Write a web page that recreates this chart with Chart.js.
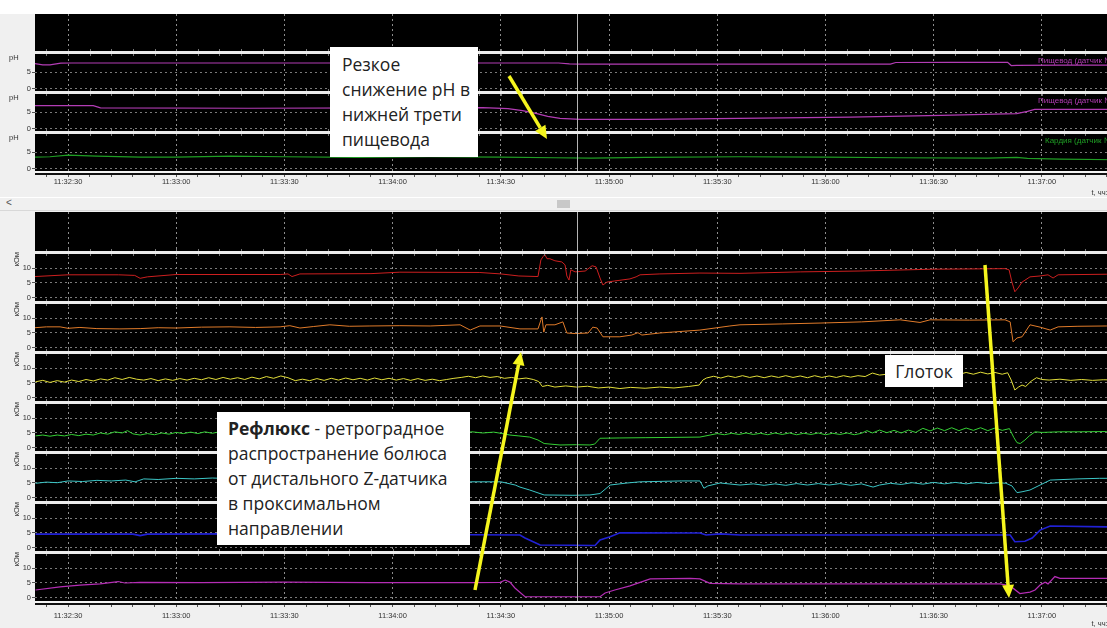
<!DOCTYPE html>
<html><head><meta charset="utf-8">
<script src="https://cdn.jsdelivr.net/npm/chart.js@4.4.0/dist/chart.umd.min.js"></script>
<style>
html,body{margin:0;padding:0;width:1107px;height:628px;overflow:hidden;background:#f0f0f0;position:relative;font-family:'Liberation Sans',Arial,sans-serif;}
#topWhite{position:absolute;left:0;top:0;width:1107px;height:14px;background:#fff}
#scroll{position:absolute;left:0;top:197px;width:1107px;height:12px;background:#f0f0f0;border-top:1px solid #fff;border-bottom:1px solid #d8d8d8}
#scroll .lt{position:absolute;left:6px;top:-1px;font-size:10px;color:#555}
#scroll .thumb{position:absolute;left:557px;top:2px;width:13px;height:8px;background:#c8c8c8}
canvas{position:absolute;left:0}
#c1{top:0}
#c2{top:198px}
#ov{position:absolute;left:0;top:0;z-index:10}
.box{position:absolute;background:#fff;z-index:11;font-family:'Open Sans','Noto Sans',sans-serif;font-size:17.5px;color:#222;line-height:25px;box-sizing:border-box;white-space:nowrap}
</style></head>
<body>
<div id="topWhite"></div>
<div id="scroll"><span class="lt">&lt;</span><div class="thumb"></div></div>
<canvas id="c1" width="1118" height="197"></canvas>
<canvas id="c2" width="1118" height="430"></canvas>
<svg id="ov" width="1107" height="628"></svg>
<div class="box" style="left:330px;top:47px;width:148px;height:110px;padding:5px 0 0 12px">Резкое<br>снижение pH в<br>нижней трети<br>пищевода</div>
<div class="box" style="left:217px;top:412px;width:253px;height:133px;padding:4px 0 0 11px"><b>Рефлюкс</b> - ретроградное<br>распространение болюса<br>от дистального Z-датчика<br>в проксимальном<br>направлении</div>
<div class="box" style="left:885px;top:355px;width:78px;height:32px;line-height:32px;text-align:center">Глоток</div>
<script>
// ---- time axis (seconds after 11:32:00) ----
const X_MIN = 20.85, X_MAX = 321.1;
const majorTicks = [30,60,90,120,150,180,210,240,270,300];
const tickLabels = ['11:32:30','11:33:00','11:33:30','11:34:00','11:34:30','11:35:00','11:35:30','11:36:00','11:36:30','11:37:00'];
const minorStep = 6;
const cursorT = 171.1;

// ---- pH channels ----
const ph1 = [[20.8,7.5],[23,7.1],[25,7.1],[28,7.6],[31,7.65],[60,7.65],[100,7.65],[140,7.65],[166,7.65],[169,7.4],[172,7.35],[200,7.35],[230,7.35],[258,7.35],[259.5,7.8],[275,7.85],[290.5,7.85],[291.5,6.9],[293,6.95],[305,7.0],[322,7.0]];
const ph2 = [[20.8,6.9],[37,6.9],[39,6.2],[80,6.1],[120,6.2],[145,6.3],[152,6.0],[156,5.4],[160,4.5],[163,3.7],[166.4,3.1],[172,2.8],[191,2.8],[216,3.1],[247,3.5],[272,4.0],[293,4.5],[296,5.2],[298,5.75],[322,5.8]];
const ph3 = [[20.8,3.5],[25,3.6],[30,4.1],[38,3.8],[50,3.5],[60,3.5],[75,3.8],[90,3.6],[110,3.4],[130,3.6],[150,3.5],[165,3.3],[175,3.2],[190,3.4],[216,3.6],[240,3.5],[260,3.3],[285,3.2],[293,3.4],[296,3.1],[305,2.9],[322,2.7]];
const phLabels = ['Пищевод (датчик №1)','Пищевод (датчик №2)','Кардия (датчик №3)'];

// ---- impedance channels (kOhm) ----
const z1 = [[20.8,7.2],[30,7.8],[44,7.8],[48.5,7.6],[50,6.6],[52,7.1],[60,7.9],[89,7.9],[91,8.1],[92.1,7.2],[94.3,8.1],[114,8.2],[122,8.7],[144,8.6],[150,8.1],[155,7.4],[160.3,7.2],[161.1,12.9],[161.7,14.0],[162.2,14.7],[162.8,13.3],[163.6,13.3],[165,12.6],[166.9,12.2],[167.8,11.2],[168.3,7.4],[168.9,6.0],[169.4,9.5],[170.6,8.8],[173.4,9.1],[175.3,10.9],[176.4,10.5],[177.5,6.7],[178.3,4.3],[179.4,5.3],[181.6,5.7],[185.8,6.4],[187.5,7.1],[188.6,7.8],[194.1,8.1],[205.2,8.4],[216.3,8.3],[233,8.8],[249.6,9.1],[269,9.7],[289.8,9.9],[290.9,9.5],[291.7,5.3],[292.5,2.0],[293.4,3.3],[294.5,5.3],[296.7,7.1],[299.5,7.4],[301.7,7.8],[303.1,6.7],[304.5,7.8],[318,8.0],[322,8.0]];
const z2 = [[20.8,6.8],[24,7.1],[27.8,7.1],[30,6.6],[33.3,6.9],[38,6.5],[44.4,6.4],[50,6.5],[55,6.8],[60,6.7],[67,7.0],[74.9,7.1],[82,6.9],[88.8,7.1],[91.5,7.5],[94.3,6.7],[98,7.2],[102.6,7.8],[108,7.3],[113.7,7.4],[122,7.5],[130.4,7.4],[138.7,7.8],[141.5,6.0],[144.2,7.4],[149.8,7.4],[155.3,6.4],[160.3,6.4],[161.4,10.5],[161.9,5.3],[162.5,7.8],[165,7.8],[167.2,8.8],[168.3,5.0],[170.6,4.8],[174.2,5.0],[175.5,7.0],[176.7,6.7],[178.3,3.7],[183,3.7],[186.3,4.3],[188,5.1],[189.1,4.3],[194.1,5.0],[205.2,6.0],[213.5,7.4],[216.3,7.8],[228,8.1],[238.5,8.4],[250,8.8],[260.7,9.5],[266.2,8.6],[269,9.5],[280,9.4],[289.8,9.5],[291.2,8.8],[292,2.0],[293.1,3.3],[294.5,3.7],[296.7,7.8],[299.5,7.0],[302.3,6.0],[304.5,7.1],[310,7.3],[318,7.4],[322,7.4]];
const z3 = [[21,5.4],[23,5.9],[25,5.2],[27,5.8],[29,5.3],[31,6.0],[33,5.5],[35,6.2],[37,5.7],[39,6.4],[41,6.0],[43,6.8],[45,6.2],[47,6.9],[49,6.3],[51,6.0],[53,6.5],[55,5.8],[57,6.4],[59,5.9],[61,6.5],[63,6.0],[65,6.6],[67,6.1],[69,6.8],[71,6.2],[73,6.9],[75,6.3],[77,6.8],[79,6.2],[81,7.0],[83,6.4],[85,7.2],[87,6.6],[89,7.4],[91,6.8],[93,5.8],[95,6.3],[97,5.8],[99,6.5],[101,5.9],[103,6.6],[105,6.0],[107,6.7],[109,6.1],[111,6.6],[113,6.0],[115,6.7],[117,6.1],[119,6.6],[121,6.0],[123,6.5],[125,5.9],[127,6.5],[129,5.9],[131,6.3],[133,5.8],[135,6.2],[137,6.6],[139,6.9],[141,7.3],[143,6.8],[145,7.4],[147,6.9],[149,7.2],[151,6.6],[153,6.9],[155,6.4],[157,6.7],[159,6.2],[160.5,5.5],[161.5,3.8],[163,4.2],[165,3.6],[168,4.0],[171,3.6],[174,3.9],[177,3.3],[180,3.6],[183,3.1],[186,3.5],[190,3.2],[194,3.6],[198,3.3],[202,3.8],[205,4.3],[206,6.0],[207,6.7],[209,7.3],[211,6.7],[213,7.4],[215,6.9],[217,7.5],[219,6.9],[221,7.4],[223,6.8],[225,7.4],[227,6.9],[229,7.5],[231,6.9],[233,7.4],[235,6.8],[237,7.5],[239,6.9],[241,7.4],[243,6.9],[245,7.5],[247,7.0],[249,7.5],[251,7.2],[253,8.4],[255,7.7],[257,8.0],[259,7.6],[262,8.1],[265,7.6],[268,8.2],[271,7.7],[274,8.3],[277,7.9],[279,8.6],[281,8.0],[283,8.7],[285,8.1],[287,8.6],[289,8.0],[290.5,8.5],[291.5,6.0],[292.5,2.6],[293.5,3.6],[294.5,4.3],[295.5,3.8],[297,5.6],[298.5,6.8],[300,6.2],[302,6.0],[305,6.3],[308,5.9],[311,6.2],[314,5.9],[317,6.1],[322,6.0]];
const z4 = [[21,4.0],[23,4.3],[25,3.9],[27,4.3],[29,4.0],[31,4.5],[33,4.1],[35,4.6],[37,4.3],[39,5.0],[41,4.6],[43,5.4],[45,5.0],[46.5,5.8],[48,4.7],[50,4.3],[52,4.8],[54,4.4],[56,5.0],[58,4.6],[60,5.2],[62,4.8],[64,5.3],[66,4.8],[68,5.4],[70,4.9],[72,5.4],[74,5.0],[76,5.5],[78,5.0],[80,5.5],[82,5.1],[84,5.6],[86,5.1],[88,5.5],[90,5.0],[92,5.5],[94,5.0],[96,5.6],[98,5.1],[100,5.5],[103,5.0],[106,5.6],[109,5.1],[112,5.5],[115,5.0],[118,5.6],[121,5.1],[124,5.5],[127,5.0],[130,5.5],[133,5.0],[136,5.5],[139,5.0],[142,5.4],[145,5.0],[148,5.3],[150,4.9],[152.5,4.3],[155,4.0],[158,3.6],[160.3,2.6],[162,1.4],[166.4,0.9],[171,1.0],[174.7,0.9],[176,1.2],[177.5,3.2],[183,3.3],[190,3.4],[198,3.5],[205.2,3.6],[208,4.3],[210,4.8],[212,4.4],[214,4.9],[216,4.5],[218,5.0],[220,4.5],[222,4.9],[224,4.4],[226,5.0],[228,4.5],[230,5.0],[232,4.4],[234,4.9],[236,4.5],[238,5.0],[240,4.4],[242,4.9],[244,4.5],[246,5.0],[248,4.4],[250,4.9],[251.5,5.8],[253,5.0],[255,6.0],[257,5.1],[259,5.9],[261,5.0],[263,6.0],[265,5.2],[267,6.6],[269,5.7],[271,6.7],[273,5.8],[275,6.8],[277,5.8],[279,6.7],[281,5.9],[283,6.8],[285,5.8],[287,6.7],[289,5.9],[291,6.5],[292.2,3.5],[293.1,1.7],[294,1.4],[295.3,2.6],[296.5,4.0],[298.1,5.4],[300,5.2],[305,5.4],[310,5.4],[318,5.5],[322,5.5]];
const z5 = [[21,4.9],[24,5.3],[27,5.1],[30,5.7],[34,5.5],[38,5.9],[42,5.7],[46,6.0],[48.6,5.4],[51,6.4],[55,6.2],[60,6.6],[65,6.4],[70,6.7],[75,6.5],[80,6.8],[85,6.6],[90,6.8],[95,6.6],[100,6.9],[105,6.6],[110,6.8],[114,6.6],[120,6.7],[130,6.5],[141.5,5.4],[150,5.4],[154,4.3],[155.3,3.6],[158,2.6],[162,0.9],[170,0.8],[174.7,0.9],[177.5,1.4],[180.3,4.3],[185,5.0],[188.6,5.4],[200,5.7],[205.2,5.7],[206.3,3.2],[207.4,4.0],[210.8,5.0],[216.3,4.3],[220,4.7],[223,4.2],[226,4.7],[229,4.2],[232,4.8],[235,4.3],[238,4.8],[241,4.3],[244,4.8],[247,4.2],[250,4.7],[253.2,3.6],[255,4.3],[258,4.9],[261,4.5],[264,5.1],[267,4.6],[270,5.2],[273,4.7],[276,5.2],[279,4.7],[282,5.2],[285,4.8],[288,5.1],[290,4.9],[291.7,4.0],[293.1,1.7],[294.5,2.0],[296.7,2.6],[299.5,4.3],[302.3,6.0],[310,6.4],[316,6.6],[322,6.6]];
const z6 = [[21,4.6],[40,4.6],[48,4.6],[50,4.1],[52,4.6],[80,4.7],[100,4.5],[120,4.6],[141.5,4.4],[155.3,4.3],[156.7,3.3],[160.9,0.9],[170,0.8],[176.1,0.7],[177.5,2.6],[180.3,3.7],[183,5.1],[205.2,5.0],[206.9,4.3],[210.8,4.7],[216.3,4.3],[250,4.3],[291.2,4.3],[292.5,2.0],[295.3,2.2],[297.3,3.3],[299.5,6.0],[302.3,7.4],[318,7.1],[322,7.1]];
const z7 = [[21,2.6],[27.8,3.7],[33.3,4.3],[38.9,4.7],[43.9,5.5],[45.8,5.0],[50,5.2],[66.6,5.1],[90,5.3],[113.7,5.1],[141.5,5.1],[149.8,5.2],[151.2,6.0],[152.5,5.3],[153.9,3.3],[156.7,0.3],[177.5,0.3],[178.9,1.6],[181.6,2.6],[185.8,4.0],[191.4,6.4],[202.5,6.6],[205.2,6.4],[208,4.9],[216.3,4.7],[288.4,4.7],[291.2,4.0],[293.9,1.4],[296.7,1.9],[298.1,2.6],[299.5,4.3],[300.9,5.3],[301.7,4.7],[303.6,7.2],[305,6.6],[318,6.6],[322,6.6]];

const phTicks = [0,5];
const zTicks = [0,5,10];

Chart.defaults.font.family = "'Liberation Sans','DejaVu Sans',Arial,sans-serif";
Chart.defaults.font.size = 7.5;
Chart.defaults.color = '#3a3a3a';
Chart.defaults.animation = false;

function ds(pairs, color, yID, w){
  return {data: pairs.map(p=>({x:p[0], y:p[1]})), borderColor: color, borderWidth: w||1, pointRadius:0, tension:0, fill:false, yAxisID:yID};
}
function xScale(boxH, tickLen, pad){
  const all = [];
  for (let v = majorTicks[0]-minorStep; v <= X_MAX; v += minorStep) all.push(v);
  return {type:'linear', position:'bottom', min:X_MIN, max:X_MAX,
    afterBuildTicks: s => { s.ticks = all.map(v=>({value:v})); },
    afterFit: s => { s.height = boxH; s.paddingLeft = 0; s.paddingRight = 0; },
    ticks:{autoSkip:false, maxRotation:0, padding:pad, color:'#333',
      callback: v => { const i = majorTicks.indexOf(v); return i>=0 ? tickLabels[i] : ''; }},
    grid:{color: c => (c.tick && majorTicks.includes(c.tick.value)) ? '#8c8c8c' : 'rgba(0,0,0,0)', tickColor:'#555', tickLength:tickLen, lineWidth:1},
    border:{display:false, dash:[2,3]},
    title:{display:true, text:'t, чч:мм', align:'end', color:'#333', font:{size:7.5}, padding:{top:0,bottom:0}}
  };
}
function emptyScale(weight){
  return {type:'linear', position:'left', stack:'s', stackWeight:weight, min:0, max:1,
    afterBuildTicks: s => { s.ticks = [{value:0}]; }, afterFit: s => { s.width = 35; },
    ticks:{display:false}, grid:{display:false}, border:{display:false}};
}
function valScale(weight, min, max, ticks, title){
  return {type:'linear', position:'left', stack:'s', stackWeight:weight, min, max,
    afterBuildTicks: s => { s.ticks = ticks.map(v=>({value:v})); }, afterFit: s => { s.width = 35; },
    ticks:{padding:1, color:'#333'},
    grid:{color:'#7a7a7a', tickColor:'#555', tickLength:3},
    border:{display:false, dash:[2,3]},
    title:{display:!!title, text:title||'', align:'end', color:'#333', font:{size:7.5}, padding:{top:12.5,bottom:0}}
  };
}

const panelPlugin = {
  id:'panel',
  beforeDraw(chart){
    const {ctx, chartArea:a} = chart;
    ctx.save(); ctx.fillStyle='#000'; ctx.fillRect(a.left, a.top, a.right-a.left, a.bottom-a.top); ctx.restore();
  },
  afterDraw(chart, args, opts){
    const {ctx, chartArea:a, scales} = chart;
    const xs = scales.x;
    ctx.save();
    const cx = Math.round(xs.getPixelForValue(cursorT)) + 0.5;
    ctx.strokeStyle = '#b4b4b4'; ctx.lineWidth = 1;
    ctx.beginPath(); ctx.moveTo(cx, a.top); ctx.lineTo(cx, a.bottom); ctx.stroke();
    const ids = opts.strips;
    ids.forEach(id => {
      const y = Math.round(scales[id].top);
      ctx.fillStyle = '#ececec'; ctx.fillRect(a.left, y-1, a.right-a.left, 3);
      ctx.fillStyle = '#777';
      xs.ticks.forEach(t => { const px = Math.round(xs.getPixelForValue(t.value)); ctx.fillRect(px, y+2, 1, 2); ctx.fillRect(px, y-3, 1, 2); });
    });
    ctx.fillStyle = '#f4f4f4'; ctx.fillRect(a.left, a.bottom-1, a.right-a.left, 2);
    ctx.fillStyle = '#111'; ctx.fillRect(a.left, a.bottom+1, a.right-a.left, 2);
    if (opts.unitLeft) {
      ctx.fillStyle = '#333'; ctx.font = "7.5px 'Liberation Sans', Arial, sans-serif"; ctx.textBaseline='middle'; ctx.textAlign='left';
      ids.forEach(id => ctx.fillText(opts.unitLeft, 9, scales[id].top + 6));
    }
    if (opts.rightLabels) {
      ctx.font = "8px 'Liberation Sans', Arial, sans-serif"; ctx.textBaseline='middle'; ctx.textAlign='left';
      opts.rightLabels.forEach((lab, k) => {
        ctx.fillStyle = lab.color;
        ctx.fillText(lab.text, lab.x, scales[ids[k]].top + 9);
      });
    }
    ctx.restore();
  }
};

// stacked left axes are placed bottom-up, so they are declared bottom strip first
const phMin = -0.9, phMax = 10.9;
new Chart(document.getElementById('c1'), {
  type:'line',
  data:{datasets:[
    ds(ph1,'#b23cb4','p1',1.2), ds(ph2,'#b23cb4','p2',1.2), ds(ph3,'#1f9e24','p3',1.2)
  ]},
  options:{responsive:false, events:[], layout:{padding:{top:14,left:0,right:0,bottom:0}},
    plugins:{legend:{display:false}, tooltip:{enabled:false},
      panel:{strips:['p1','p2','p3'], unitLeft:'pH',
        rightLabels:[{text:phLabels[0],color:'#b23cb4',x:1038},{text:phLabels[1],color:'#b23cb4',x:1038},{text:phLabels[2],color:'#1f9e24',x:1045}]}},
    scales:{
      x: xScale(25,5,0),
      p3: valScale(40, phMin, phMax, phTicks),
      p2: valScale(40, phMin, phMax, phTicks),
      p1: valScale(40, phMin, phMax, phTicks),
      e0: emptyScale(38)
    }
  },
  plugins:[panelPlugin]
});

const zMin = -1.5, zMax = 15.6;
new Chart(document.getElementById('c2'), {
  type:'line',
  data:{datasets:[
    ds(z1,'#cc1f1f','q1'), ds(z2,'#e07b2a','q2'), ds(z3,'#e2de3a','q3'), ds(z4,'#35d035','q4'),
    ds(z5,'#3cc6c6','q5'), ds(z6,'#2121d6','q6',1.6), ds(z7,'#b52db5','q7',1.2)
  ]},
  options:{responsive:false, events:[], layout:{padding:{top:14,left:0,right:0,bottom:0}},
    plugins:{legend:{display:false}, tooltip:{enabled:false},
      panel:{strips:['q1','q2','q3','q4','q5','q6','q7']}},
    scales:{
      x: xScale(26,5,4),
      q7: valScale(50, zMin, zMax, zTicks, 'кОм'),
      q6: valScale(50, zMin, zMax, zTicks, 'кОм'),
      q5: valScale(50, zMin, zMax, zTicks, 'кОм'),
      q4: valScale(50, zMin, zMax, zTicks, 'кОм'),
      q3: valScale(50, zMin, zMax, zTicks, 'кОм'),
      q2: valScale(50, zMin, zMax, zTicks, 'кОм'),
      q1: valScale(50, zMin, zMax, zTicks, 'кОм'),
      e0: emptyScale(40)
    }
  },
  plugins:[panelPlugin]
});

// ---- annotation arrows (overlay, page pixels) ----
const arrows = [[509,76,547,139],[475,590,521,352],[985,265,1009,598]];
const svg = document.getElementById('ov');
const NS = 'http://www.w3.org/2000/svg';
arrows.forEach(([x1,y1,x2,y2]) => {
  const dx = x2-x1, dy = y2-y1, L = Math.hypot(dx,dy), ux = dx/L, uy = dy/L;
  const hl = 13, hw = 6;
  const bx = x2-ux*hl, by = y2-uy*hl;
  const line = document.createElementNS(NS,'line');
  line.setAttribute('x1',x1); line.setAttribute('y1',y1); line.setAttribute('x2',bx); line.setAttribute('y2',by);
  line.setAttribute('stroke','#f5f51e'); line.setAttribute('stroke-width','3.5');
  svg.appendChild(line);
  const poly = document.createElementNS(NS,'polygon');
  poly.setAttribute('points', `${x2},${y2} ${bx-uy*hw},${by+ux*hw} ${bx+uy*hw},${by-ux*hw}`);
  poly.setAttribute('fill','#f5f51e');
  svg.appendChild(poly);
});
</script>
</body></html>
